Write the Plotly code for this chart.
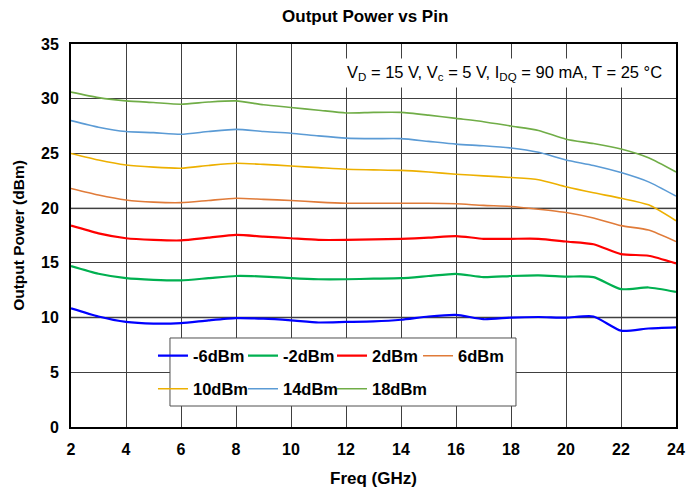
import plotly.graph_objects as go

freq = list(range(2, 25))

p_m6 = [10.85, 10.1, 9.6, 9.45, 9.5, 9.75, 9.95, 9.9, 9.75, 9.55, 9.6, 9.65, 9.8, 10.1, 10.25, 9.85, 10.0, 10.05, 10.0, 10.1, 8.8, 9.0, 9.1]
p_m2 = [14.7, 14.0, 13.6, 13.45, 13.4, 13.6, 13.8, 13.75, 13.6, 13.5, 13.5, 13.55, 13.6, 13.8, 14.0, 13.7, 13.8, 13.85, 13.75, 13.7, 12.6, 12.75, 12.35]
p_2 = [18.4, 17.7, 17.25, 17.1, 17.05, 17.3, 17.55, 17.4, 17.25, 17.1, 17.1, 17.15, 17.2, 17.3, 17.45, 17.2, 17.2, 17.2, 16.95, 16.7, 15.8, 15.65, 14.95]
p_6 = [21.8, 21.2, 20.75, 20.55, 20.5, 20.7, 20.9, 20.8, 20.7, 20.55, 20.45, 20.45, 20.45, 20.45, 20.4, 20.25, 20.15, 19.9, 19.6, 19.1, 18.4, 18.0, 16.95]
p_10 = [25.0, 24.4, 23.95, 23.75, 23.65, 23.9, 24.1, 24.0, 23.85, 23.7, 23.55, 23.5, 23.45, 23.3, 23.1, 22.95, 22.8, 22.6, 21.95, 21.4, 20.9, 20.3, 18.85]
p_14 = [28.0, 27.4, 27.0, 26.9, 26.75, 27.0, 27.2, 27.0, 26.85, 26.6, 26.4, 26.35, 26.35, 26.1, 25.85, 25.7, 25.5, 25.1, 24.4, 23.9, 23.25, 22.4, 21.1]
p_18 = [30.6, 30.1, 29.8, 29.65, 29.5, 29.7, 29.8, 29.45, 29.2, 28.95, 28.7, 28.75, 28.75, 28.5, 28.2, 27.9, 27.5, 27.1, 26.3, 25.9, 25.4, 24.6, 23.3]

names = ["-6dBm", "-2dBm", "2dBm", "6dBm", "10dBm", "14dBm", "18dBm"]
series = [p_m6, p_m2, p_2, p_6, p_10, p_14, p_18]
colors = ["#0000FF", "#00B050", "#FF0000", "#E07B39", "#EDB000", "#5B9BD5", "#70AD47"]
widths = [2.2, 2.2, 2.2, 1.6, 1.6, 1.6, 1.6]

FONT = "Liberation Sans, Arial"

# legend grid placement (paper coords): 4 columns, 2 rows
leg_cols = [0.1355, 0.2843, 0.4314, 0.5736]
leg_rows = [0.1854, 0.0992]

fig = go.Figure()
layout_legends = {}
for i, (n, s, c, w) in enumerate(zip(names, series, colors, widths)):
    key = "legend" if i == 0 else f"legend{i + 1}"
    fig.add_trace(go.Scatter(x=freq, y=s, name=n, mode="lines", legend=key,
                             line=dict(color=c, width=w, shape="spline", smoothing=0.6)))
    layout_legends[key] = dict(
        x=leg_cols[i % 4], y=leg_rows[i // 4], xanchor="left", yanchor="middle",
        bgcolor="rgba(0,0,0,0)", borderwidth=0, itemwidth=30,
        font=dict(size=16.5, family=FONT, weight="bold", color="black"))

# legend frame
fig.add_shape(type="rect", xref="paper", yref="paper", x0=0.1636, x1=0.7355, y0=0.0548, y1=0.2324,
              fillcolor="white", line=dict(color="#505050", width=1), layer="above")

for yv in [10, 20]:
    fig.add_shape(type="line", xref="paper", x0=0, x1=1, yref="y", y0=yv, y1=yv,
                  line=dict(color="#a0a0a0", width=2), layer="below")

fig.add_annotation(
    text="V<sub>D</sub> = 15 V, V<sub>c</sub> = 5 V, I<sub>DQ</sub> = 90 mA, T = 25 °C",
    xref="paper", yref="paper", x=0.985, y=0.925, xanchor="right", yanchor="middle",
    showarrow=False, bgcolor="white", borderpad=4,
    font=dict(family=FONT, size=16.5, color="black"))

fig.update_layout(
    width=693, height=492,
    margin=dict(l=71, r=17, t=44, b=65),
    paper_bgcolor="white", plot_bgcolor="white",
    font=dict(family=FONT, color="black"),
    showlegend=True,
    title=dict(text="<b>Output Power vs Pin</b>", x=0.527, xanchor="center", y=0.967, yanchor="middle",
               font=dict(size=17, color="black")),
    xaxis=dict(range=[2, 24], dtick=2, tick0=2, showgrid=True, gridcolor="#404040", gridwidth=1,
               showline=True, linecolor="black", linewidth=2, mirror=True, ticks="",
               ticklabelstandoff=7, automargin=False,
               tickfont=dict(size=16, family=FONT, weight="bold"),
               title=dict(text="<b>Freq (GHz)</b>", font=dict(size=17), standoff=15), zeroline=False),
    yaxis=dict(range=[0, 35], dtick=5, showgrid=True, gridcolor="#404040", gridwidth=1,
               showline=True, linecolor="black", linewidth=2, mirror=True, ticks="",
               ticklabelstandoff=7, automargin=False,
               tickfont=dict(size=16, family=FONT, weight="bold"),
               title=dict(text="<b>Output Power (dBm)</b>", font=dict(size=15.5), standoff=13), zeroline=False),
    **layout_legends,
)

fig.write_html("out.html")
